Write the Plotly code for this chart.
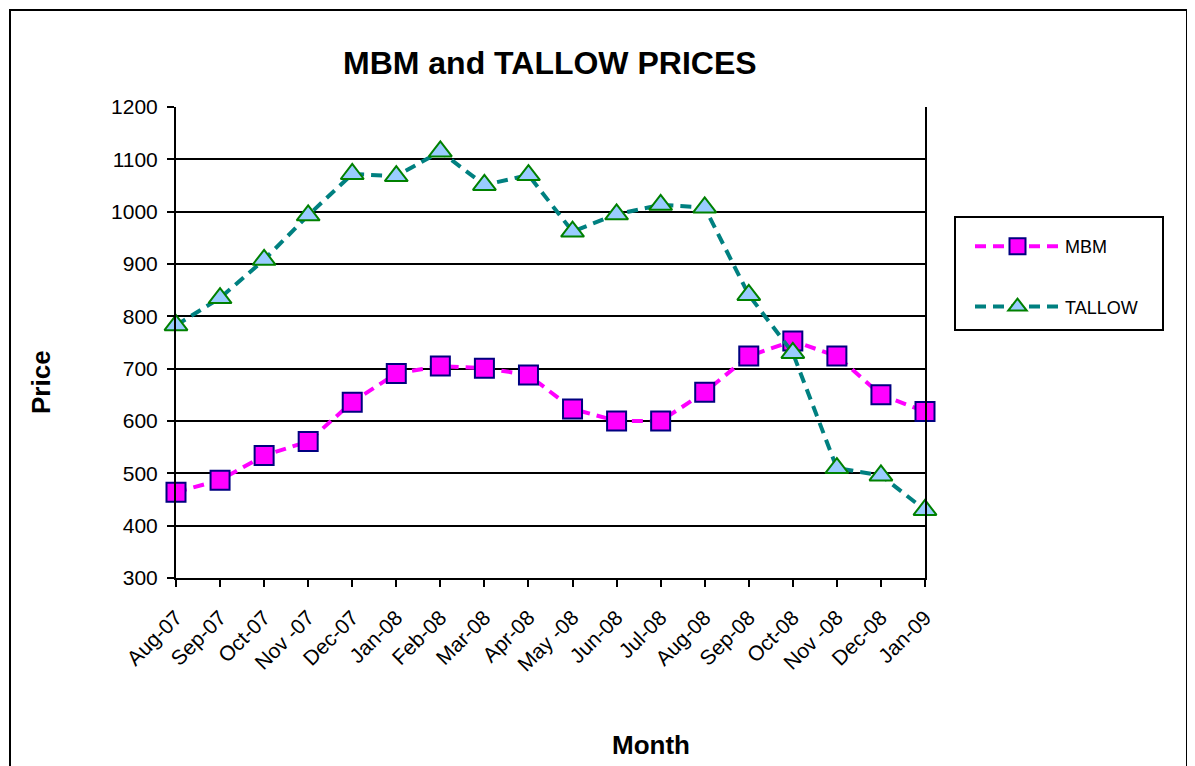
import plotly.graph_objects as go

months = ["Aug-07", "Sep-07", "Oct-07", "Nov -07", "Dec-07", "Jan-08", "Feb-08", "Mar-08",
          "Apr-08", "May -08", "Jun-08", "Jul-08", "Aug-08", "Sep-08", "Oct-08", "Nov -08",
          "Dec-08", "Jan-09"]
mbm = [464, 487, 534, 561, 636, 691, 705, 701, 688, 623, 600, 600, 655, 724, 753, 724, 650, 618]
tallow = [783, 835, 908, 993, 1072, 1068, 1115, 1051, 1070, 962, 995, 1013, 1008, 841, 730, 510, 496, 430]

FONT = "Liberation Sans, Arial, sans-serif"

# page body has an 8px margin; plot area target on screen: x 176..925, y 107..578
OFF = 8
W, H = 1195 - OFF, 766 - OFF
PW, PH = 749, 471
L, T = 176 - OFF, 107 - OFF
R, B = W - L - PW, H - T - PH


def px(x):
    return (x - 176) / PW


def py(y):
    return (578 - y) / PH


fig = go.Figure()
fig.add_trace(go.Scatter(
    x=months, y=mbm, name="MBM", mode="lines+markers", cliponaxis=False,
    line=dict(color="#FF00FF", width=4, dash="11px,7px"),
    marker=dict(symbol="square", size=19, color="#FF00FF", line=dict(color="#000080", width=2)),
    legendgroup="a",
))
fig.add_trace(go.Scatter(
    x=months, y=tallow, name="TALLOW", mode="lines+markers", cliponaxis=False,
    line=dict(color="#008080", width=4, dash="11px,7px"),
    marker=dict(symbol="triangle-up", size=20, color="#99CCFF", line=dict(color="#008000", width=2)),
    legendgroup="b",
))

fig.update_layout(
    width=W, height=H,
    margin=dict(l=L, r=R, t=T, b=B),
    paper_bgcolor="white", plot_bgcolor="white",
    font=dict(family=FONT, color="black", size=21),
    showlegend=True,
    legend=dict(x=px(970), y=py(228), xanchor="left", yanchor="top",
                font=dict(size=18, family=FONT), bgcolor="rgba(0,0,0,0)",
                tracegroupgap=34, itemwidth=85),
    xaxis=dict(
        type="category", range=[0, len(months) - 1],
        showline=True, linecolor="black", linewidth=2,
        ticks="outside", ticklen=7, tickwidth=2, tickcolor="black",
        tickangle=-45, tickfont=dict(size=21, family=FONT), ticklabelstandoff=10,
        showgrid=False, zeroline=False,
    ),
    yaxis=dict(
        range=[300, 1200], dtick=100, tick0=300,
        showline=True, linecolor="black", linewidth=2, mirror=True,
        ticks="outside", ticklen=7, tickwidth=2, tickcolor="black",
        tickfont=dict(size=21, family=FONT), ticklabelstandoff=5,
        showgrid=True, gridcolor="black", gridwidth=2, zeroline=False,
    ),
    annotations=[
        dict(text="<b>MBM and TALLOW PRICES</b>", xref="paper", yref="paper", x=px(550), y=py(63),
             xanchor="center", yanchor="middle", showarrow=False,
             font=dict(size=32, family=FONT, color="black")),
        dict(text="<b>Month</b>", xref="paper", yref="paper", x=px(651), y=py(745),
             xanchor="center", yanchor="middle", showarrow=False,
             font=dict(size=26, family=FONT, color="black")),
        dict(text="<b>Price</b>", xref="paper", yref="paper", x=px(41), y=py(382),
             xanchor="center", yanchor="middle", showarrow=False, textangle=-90,
             font=dict(size=26, family=FONT, color="black")),
    ],
    shapes=[
        dict(type="rect", xref="paper", yref="paper",
             x0=px(955), x1=px(1163), y0=py(330), y1=py(217),
             line=dict(color="black", width=2), fillcolor="rgba(0,0,0,0)"),
        dict(type="rect", xref="paper", yref="paper",
             x0=px(10), x1=px(1187), y0=py(800), y1=py(10),
             line=dict(color="black", width=2), fillcolor="rgba(0,0,0,0)"),
    ],
)

fig.write_html("out.html")
